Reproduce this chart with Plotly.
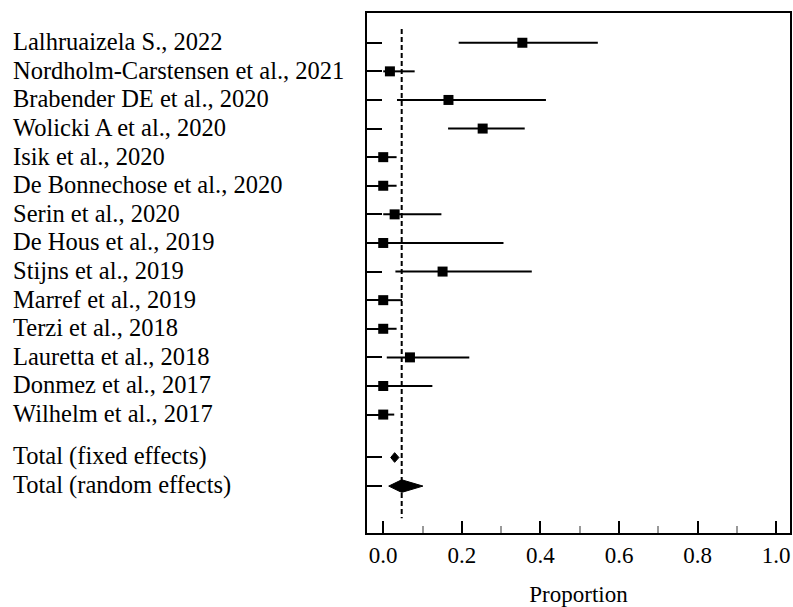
import plotly.graph_objects as go

studies = [
    "Lalhruaizela S., 2022",
    "Nordholm-Carstensen et al., 2021",
    "Brabender DE et al., 2020",
    "Wolicki A et al., 2020",
    "Isik et al., 2020",
    "De Bonnechose et al., 2020",
    "Serin et al., 2020",
    "De Hous et al., 2019",
    "Stijns et al., 2019",
    "Marref et al., 2019",
    "Terzi et al., 2018",
    "Lauretta et al., 2018",
    "Donmez et al., 2017",
    "Wilhelm et al., 2017",
]
est = [0.354, 0.017, 0.166, 0.253, 0.0, 0.0, 0.029, 0.0, 0.151, 0.0, 0.0, 0.068, 0.0, 0.0]
lo = [0.192, 0.0, 0.035, 0.165, 0.0, 0.0, 0.0, 0.0, 0.031, 0.0, 0.0, 0.009, 0.0, 0.0]
hi = [0.546, 0.080, 0.414, 0.360, 0.034, 0.034, 0.148, 0.306, 0.378, 0.048, 0.034, 0.219, 0.125, 0.028]

total_labels = ["Total (fixed effects)", "Total (random effects)"]
total_est = [0.029, 0.047]
total_lo = [0.019, 0.014]
total_hi = [0.040, 0.101]

x_ticks = [0.0, 0.2, 0.4, 0.6, 0.8, 1.0]
x_tick_text = ["0.0", "0.2", "0.4", "0.6", "0.8", "1.0"]

FONT = "'Liberation Serif', 'Times New Roman', Times, serif"
FS = 23
LABEL_FS = 24.5

n = len(studies)
ys = list(range(n))
total_ys = [n + 0.5, n + 1.5]

fig = go.Figure()

# study CIs and squares
fig.add_trace(go.Scatter(
    x=est, y=ys, mode="markers",
    marker=dict(symbol="square", size=10, color="black", line=dict(width=0)),
    error_x=dict(type="data", symmetric=False,
                 array=[h - e for h, e in zip(hi, est)],
                 arrayminus=[e - l for e, l in zip(est, lo)],
                 thickness=2, width=0, color="black"),
    showlegend=False, hoverinfo="skip",
))

# diamonds for totals
half_h = [0.17, 0.22]
for i in range(2):
    y = total_ys[i]
    h = half_h[i]
    fig.add_trace(go.Scatter(
        x=[total_lo[i], total_est[i], total_hi[i], total_est[i], total_lo[i]],
        y=[y, y - h, y, y + h, y],
        mode="lines", fill="toself", fillcolor="black",
        line=dict(color="black", width=1),
        showlegend=False, hoverinfo="skip",
    ))

# dashed reference line at random-effects estimate
fig.add_shape(type="line", xref="x", yref="y",
              x0=total_est[1], x1=total_est[1], y0=-0.48, y1=n + 2.62,
              line=dict(color="black", width=2, dash="5px,3px"))

# row labels
all_labels = studies + total_labels
all_ys = ys + total_ys
for lab, y in zip(all_labels, all_ys):
    fig.add_annotation(x=-0.841, xref="paper", y=y, yref="y", text=lab,
                       showarrow=False, xanchor="left", yanchor="middle", yshift=1,
                       font=dict(family=FONT, size=LABEL_FS, color="black"))

fig.update_layout(
    width=793, height=607,
    margin=dict(l=367, r=1, t=13, b=74),
    plot_bgcolor="white", paper_bgcolor="white",
    font=dict(family=FONT, size=FS, color="black"),
    xaxis=dict(
        range=[-0.0413, 1.035],
        tickvals=x_ticks, ticktext=x_tick_text,
        ticks="inside", ticklen=12, tickwidth=2, tickcolor="black",
        minor=dict(dtick=0.1, tick0=0, ticks="inside", ticklen=7, tickwidth=1.5, tickcolor="#999999"),
        showgrid=False, zeroline=False,
        showline=True, linecolor="black", linewidth=2, mirror=True,
        title=dict(text="Proportion", font=dict(family=FONT, size=FS), standoff=19),
        tickfont=dict(family=FONT, size=FS, color="black"),
    ),
    yaxis=dict(
        range=[17.14, -1.04],
        tickvals=all_ys, ticktext=["" for _ in all_ys],
        ticks="inside", ticklen=15, tickwidth=2, tickcolor="black",
        showgrid=False, zeroline=False,
        showline=True, linecolor="black", linewidth=2, mirror=True,
    ),
)

fig.write_html("out.html")
